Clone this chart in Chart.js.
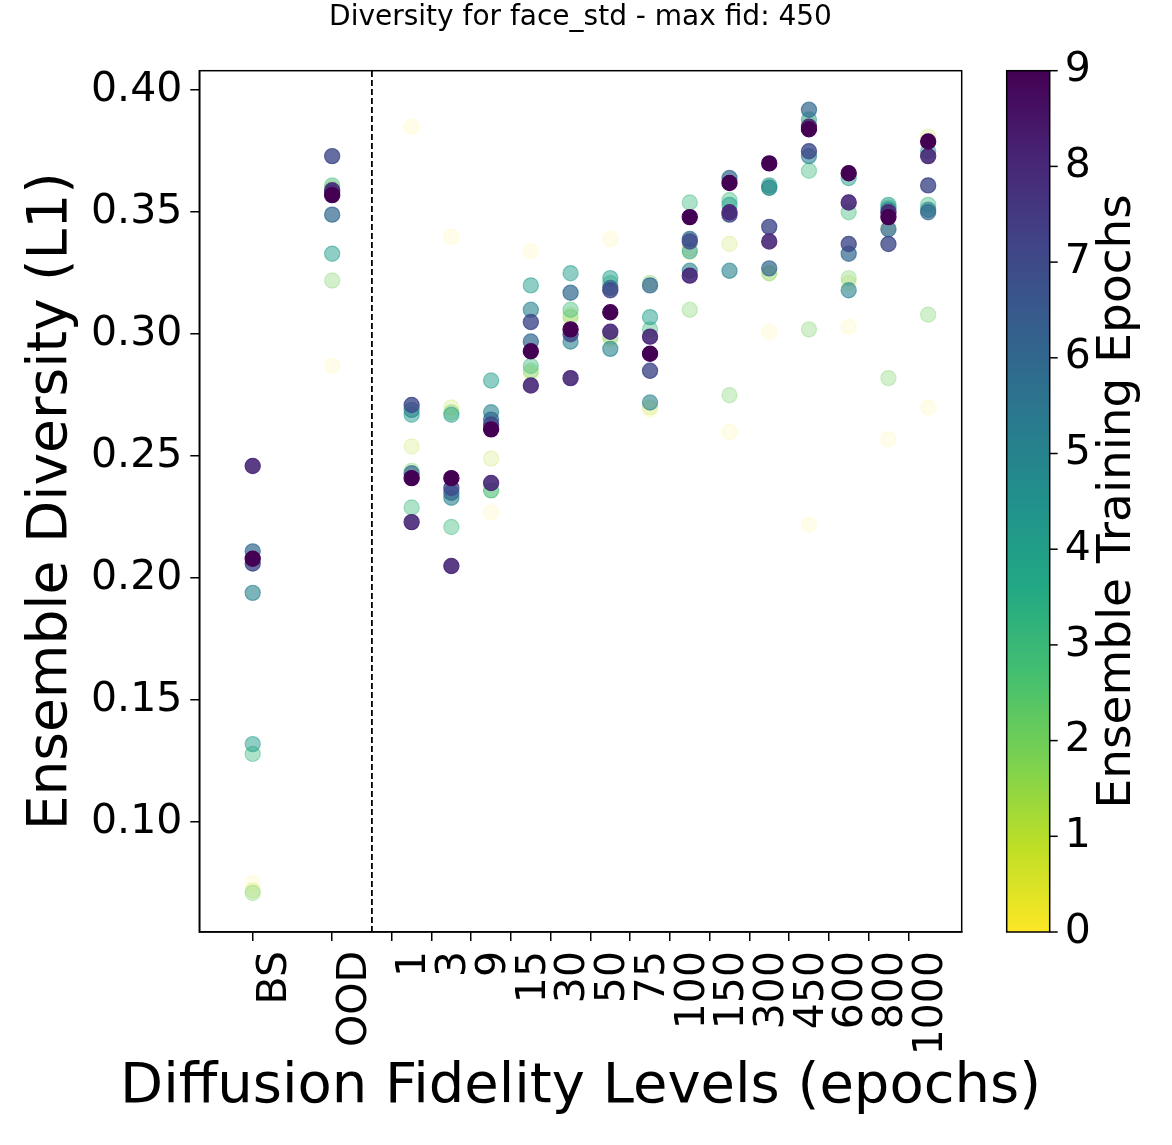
<!DOCTYPE html>
<html>
<head>
<meta charset="utf-8">
<script src="https://cdn.jsdelivr.net/npm/chart.js@4.4.0/dist/chart.umd.min.js"></script>
<style>
  html, body { margin: 0; padding: 0; background: #fff; }
  #wrap { width: 1172px; height: 1145px; }
</style>
</head>
<body>
<div id="wrap"><canvas id="chart" width="1172" height="1145"></canvas></div>
<script>
// categories along the x axis
const categories = ['BS', 'OOD', '1', '3', '9', '15', '30', '50', '75', '100', '150', '300', '450', '600', '800', '1000'];

// diversity per ensemble training epoch, one value per category
const epoch0 = [0.075, 0.287, 0.385, 0.340, 0.227, 0.334, 0.305, 0.339, 0.269, 0.333, 0.260, 0.301, 0.222, 0.303, 0.257, 0.270];
const epoch1 = [0.072, 0.360, 0.254, 0.270, 0.249, 0.284, 0.308, 0.298, 0.270, 0.335, 0.337, 0.325, 0.386, 0.321, 0.344, 0.381];
const epoch2 = [0.071, 0.322, 0.244, 0.268, 0.236, 0.285, 0.307, 0.299, 0.321, 0.310, 0.275, 0.325, 0.302, 0.323, 0.282, 0.308];
const epoch3 = [0.128, 0.361, 0.229, 0.221, 0.236, 0.287, 0.310, 0.321, 0.302, 0.354, 0.355, 0.360, 0.367, 0.350, 0.352, 0.353];
const epoch4 = [0.132, 0.333, 0.267, 0.267, 0.281, 0.320, 0.325, 0.323, 0.307, 0.334, 0.353, 0.361, 0.388, 0.364, 0.353, 0.375];
const epoch5 = [0.194, 0.358, 0.269, 0.233, 0.268, 0.310, 0.297, 0.294, 0.272, 0.326, 0.326, 0.360, 0.373, 0.318, 0.351, 0.351];
const epoch6 = [0.211, 0.349, 0.243, 0.235, 0.265, 0.297, 0.317, 0.319, 0.320, 0.339, 0.364, 0.327, 0.392, 0.333, 0.343, 0.350];
const epoch7 = [0.206, 0.373, 0.271, 0.237, 0.263, 0.305, 0.300, 0.318, 0.285, 0.338, 0.349, 0.344, 0.375, 0.337, 0.337, 0.361];
const epoch8 = [0.246, 0.359, 0.223, 0.205, 0.239, 0.279, 0.282, 0.301, 0.299, 0.324, 0.350, 0.338, 0.385, 0.354, 0.350, 0.373];
const epoch9 = [0.208, 0.357, 0.241, 0.241, 0.261, 0.293, 0.302, 0.309, 0.292, 0.348, 0.362, 0.370, 0.384, 0.366, 0.348, 0.379];
const epochSeries = [epoch0, epoch1, epoch2, epoch3, epoch4, epoch5, epoch6, epoch7, epoch8, epoch9];

const yTicks = [0.10, 0.15, 0.20, 0.25, 0.30, 0.35, 0.40];
const colorbarTicks = [0, 1, 2, 3, 4, 5, 6, 7, 8, 9];

const titleText = 'Diversity for face_std - max fid: 450';
const xTitle = 'Diffusion Fidelity Levels (epochs)';
const FONT = '"DejaVu Sans", sans-serif';
const TICK_SIZE = 41;

// viridis_r: epoch 0 yellow -> epoch 9 purple
const epochColors = ['#fde725', '#b5de2b', '#6ece58', '#35b779', '#1f9e89', '#26828e', '#31688e', '#3e4989', '#482878', '#440154'];
const viridis = ['#440154', '#482475', '#414487', '#355f8d', '#2a788e', '#21918c', '#22a884', '#44bf70', '#7ad151', '#bddf26', '#fde725'];

// BS and OOD sit one unit apart, fidelity levels half a unit apart after the split
function catPos(i) { return i < 2 ? i : 2 + 0.5 * (i - 2); }
function tickPos(i) { return i < 2 ? i : catPos(i) - 0.25; }

function rgba(hex, a) {
    const n = parseInt(hex.slice(1), 16);
    return `rgba(${(n >> 16) & 255},${(n >> 8) & 255},${n & 255},${a})`;
}

const Y_MIN = 0.055, Y_MAX = 0.408;

const datasets = epochSeries.map((vals, e) => ({
    label: 'epoch ' + e,
    data: vals.map((v, i) => ({ x: catPos(i), y: v })),
    backgroundColor: rgba(epochColors[e], (e + 1) / 10),
    borderColor: rgba(epochColors[e], (e + 1) / 10),
    borderWidth: 1.2,
    pointRadius: 7.6,
    order: 10 - e
}));

// separator between baselines and fidelity levels
datasets.push({
    type: 'line',
    label: 'split',
    data: [{ x: 1.5, y: Y_MIN }, { x: 1.5, y: Y_MAX }],
    borderColor: '#000',
    borderWidth: 1.8,
    borderDash: [6, 3],
    pointRadius: 0,
    showLine: true,
    order: 20
});

// frame, titles and colorbar
const extras = {
    id: 'extras',
    afterDraw(chart) {
        const { ctx, chartArea: a } = chart;
        ctx.save();
        ctx.strokeStyle = '#000';
        ctx.lineWidth = 1.5;
        ctx.strokeRect(a.left, a.top, a.right - a.left, a.bottom - a.top);

        ctx.fillStyle = '#000';
        ctx.font = '28px ' + FONT;
        ctx.textAlign = 'center';
        ctx.textBaseline = 'alphabetic';
        ctx.fillText(titleText, (a.left + a.right) / 2, 25);

        ctx.font = '56px ' + FONT;
        ctx.textBaseline = 'middle';
        ctx.fillText(xTitle, (a.left + a.right) / 2, 1087);

        const cl = a.right + 45, cr = a.right + 88, ct = a.top, cb = a.bottom;
        const grad = ctx.createLinearGradient(0, cb, 0, ct);
        viridis.slice().reverse().forEach((c, i) => grad.addColorStop(i / (viridis.length - 1), c));
        ctx.fillStyle = grad;
        ctx.fillRect(cl, ct, cr - cl, cb - ct);
        ctx.strokeRect(cl, ct, cr - cl, cb - ct);

        ctx.fillStyle = '#000';
        ctx.font = TICK_SIZE + 'px ' + FONT;
        ctx.textAlign = 'left';
        ctx.textBaseline = 'middle';
        colorbarTicks.forEach(t => {
            const y = cb - (t / 9) * (cb - ct);
            ctx.beginPath();
            ctx.moveTo(cr, y);
            ctx.lineTo(cr + 8, y);
            ctx.stroke();
            ctx.fillText(String(t), cr + 15, y);
        });

        ctx.translate(cr + 68, (ct + cb) / 2);
        ctx.rotate(-Math.PI / 2);
        ctx.textAlign = 'center';
        ctx.font = '47px ' + FONT;
        ctx.fillText('Ensemble Training Epochs', 0, 0);
        ctx.restore();
    }
};

new Chart(document.getElementById('chart').getContext('2d'), {
    type: 'scatter',
    data: { datasets: datasets },
    options: {
        responsive: false,
        animation: false,
        layout: { padding: { top: 70.7, right: 210.3, left: 0, bottom: 0 } },
        plugins: { legend: { display: false }, tooltip: { enabled: false } },
        scales: {
            x: {
                type: 'linear',
                min: -0.672,
                max: 8.922,
                afterBuildTicks: axis => { axis.ticks = categories.map((c, i) => ({ value: tickPos(i) })); },
                afterFit: s => { s.height = 213; },
                ticks: {
                    autoSkip: false,
                    minRotation: 90,
                    maxRotation: 90,
                    labelOffset: 23,
                    padding: 10,
                    color: '#000',
                    font: { family: FONT, size: TICK_SIZE },
                    callback: (v, i) => categories[i]
                },
                grid: { drawOnChartArea: false, tickLength: 9, color: '#000', lineWidth: 1.5 },
                border: { color: '#000', width: 1.5 }
            },
            y: {
                min: Y_MIN,
                max: Y_MAX,
                afterBuildTicks: axis => { axis.ticks = yTicks.map(v => ({ value: v })); },
                afterFit: s => { s.width = 199.3; },
                ticks: {
                    padding: 8,
                    color: '#000',
                    font: { family: FONT, size: TICK_SIZE },
                    callback: v => v.toFixed(2)
                },
                grid: { drawOnChartArea: false, tickLength: 9, color: '#000', lineWidth: 1.5 },
                border: { color: '#000', width: 1.5 },
                title: {
                    display: true,
                    text: 'Ensemble Diversity (L1)',
                    color: '#000',
                    font: { family: FONT, size: 55 },
                    padding: { top: 19, bottom: 0 }
                }
            }
        }
    },
    plugins: [extras]
});
</script>
</body>
</html>
